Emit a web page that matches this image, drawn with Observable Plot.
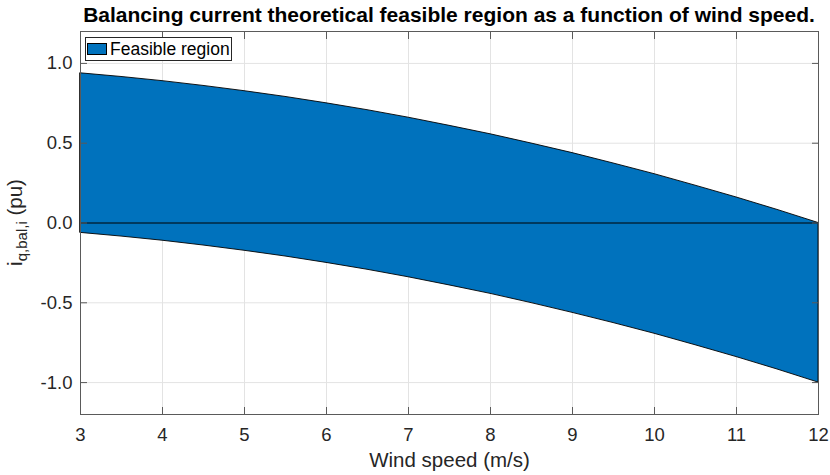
<!DOCTYPE html>
<html>
<head>
<meta charset="utf-8">
<script src="https://cdn.jsdelivr.net/npm/d3@7"></script>
<script src="https://cdn.jsdelivr.net/npm/@observablehq/plot@0.6"></script>
<style>
  html, body { margin: 0; padding: 0; background: #fff; }
  #wrap { position: relative; width: 830px; height: 475px; font-family: "Liberation Sans", Arial, sans-serif; color: #262626; }
  #title { width: 830px; height: 30px; line-height: 30px; box-sizing: border-box; padding-left: 68px; text-align: center; font-weight: bold; font-size: 21px; color: #000; white-space: nowrap; }
  #legend { position: absolute; left: 85px; top: 37px; width: 147px; height: 24px; box-sizing: border-box; border: 1px solid #262626; background: #fff; display: flex; align-items: center; font-size: 17.5px; color: #000; white-space: nowrap; }
  #legend .sw { width: 20px; height: 12px; box-sizing: border-box; border: 1px solid #000; background: #0072BD; margin-left: 1px; margin-right: 3px; flex: none; }
</style>
</head>
<body>
<div id="wrap">
  <div id="title">Balancing current theoretical feasible region as a function of wind speed.</div>
  <div id="chart"></div>
  <div id="legend"><div class="sw"></div><span>Feasible region</span></div>
</div>
<script>
const windSpeed = [3, 3.5, 4, 4.5, 5, 5.5, 6, 6.5, 7, 7.5, 8, 8.5, 9, 9.5, 10, 10.5, 11, 11.5, 12];
const upperBound = [0.938, 0.915, 0.889, 0.859, 0.826, 0.790, 0.750, 0.707, 0.660, 0.609, 0.556, 0.498, 0.438, 0.373, 0.306, 0.234, 0.160, 0.082, 0.000];
const lowerBound = [-0.062, -0.085, -0.111, -0.141, -0.174, -0.210, -0.250, -0.293, -0.340, -0.391, -0.444, -0.502, -0.563, -0.627, -0.694, -0.766, -0.840, -0.918, -1.000];
const xTicks = [3, 4, 5, 6, 7, 8, 9, 10, 11, 12];
const yTicks = [-1, -0.5, 0, 0.5, 1];
const xLabel = "Wind speed (m/s)";
const yLabelMain = "i";
const yLabelSub = "q,bal,i";
const yLabelUnit = " (pu)";

const rows = windSpeed.map((v, i) => ({v, hi: upperBound[i], lo: lowerBound[i]}));
const fmtY = d => d.toFixed(1);
const gridColor = "#e3e3e3";
const axisColor = "#5a5a5a";

const plot = Plot.plot({
  width: 830,
  height: 445,
  marginTop: 1,
  marginBottom: 61,
  marginLeft: 80,
  marginRight: 12,
  style: {fontFamily: "'Liberation Sans', Arial, sans-serif", fontSize: "18.5px", color: "#262626", background: "transparent", overflow: "visible"},
  x: {domain: [3, 12]},
  y: {domain: [-1.2, 1.2]},
  marks: [
    Plot.gridX(xTicks, {stroke: gridColor, strokeOpacity: 1}),
    Plot.gridY(yTicks, {stroke: gridColor, strokeOpacity: 1}),
    Plot.areaY(rows, {x: "v", y1: "lo", y2: "hi", fill: "#0072BD", stroke: "#000", strokeWidth: 0.9}),
    Plot.ruleY([0], {stroke: "#000", strokeWidth: 1}),
    Plot.frame({stroke: axisColor, strokeWidth: 1}),
    Plot.axisX(xTicks, {anchor: "bottom", tickSize: 0, tickPadding: 13, tickFormat: d => String(d), label: null, fontSize: 18.5, fill: "#262626"}),
    Plot.axisY(yTicks, {anchor: "left", tickSize: 0, tickPadding: 8, tickFormat: fmtY, label: null, fontSize: 18.5, fill: "#262626"}),
    Plot.axisX(xTicks, {anchor: "bottom", tickSize: -7, tickFormat: () => "", label: null, stroke: axisColor}),
    Plot.axisX(xTicks, {anchor: "top", tickSize: -7, tickFormat: () => "", label: null, stroke: axisColor}),
    Plot.axisY(yTicks, {anchor: "left", tickSize: -7, tickFormat: () => "", label: null, stroke: axisColor}),
    Plot.axisY(yTicks, {anchor: "right", tickSize: -7, tickFormat: () => "", label: null, stroke: axisColor}),
    Plot.text([xLabel], {frameAnchor: "bottom", dy: 46, lineAnchor: "middle", fontSize: 20.5, fill: "#262626"})
  ]
});

document.getElementById("chart").appendChild(plot);

// Rotated y-axis label with subscript
const yr = plot.scale("y").range;
const yc = (yr[0] + yr[1]) / 2;
const svg = d3.select(plot.tagName.toLowerCase() === "svg" ? plot : plot.querySelector("svg"));
const t = svg.append("text")
  .attr("transform", `translate(22,${yc}) rotate(-90)`)
  .attr("text-anchor", "middle")
  .attr("font-size", 20.5)
  .attr("fill", "#262626")
  .attr("font-family", "'Liberation Sans', Arial, sans-serif");
t.append("tspan").text(yLabelMain);
t.append("tspan").attr("font-size", 15).attr("dy", 5).text(yLabelSub);
t.append("tspan").attr("dy", -5).text(yLabelUnit);
</script>
</body>
</html>
